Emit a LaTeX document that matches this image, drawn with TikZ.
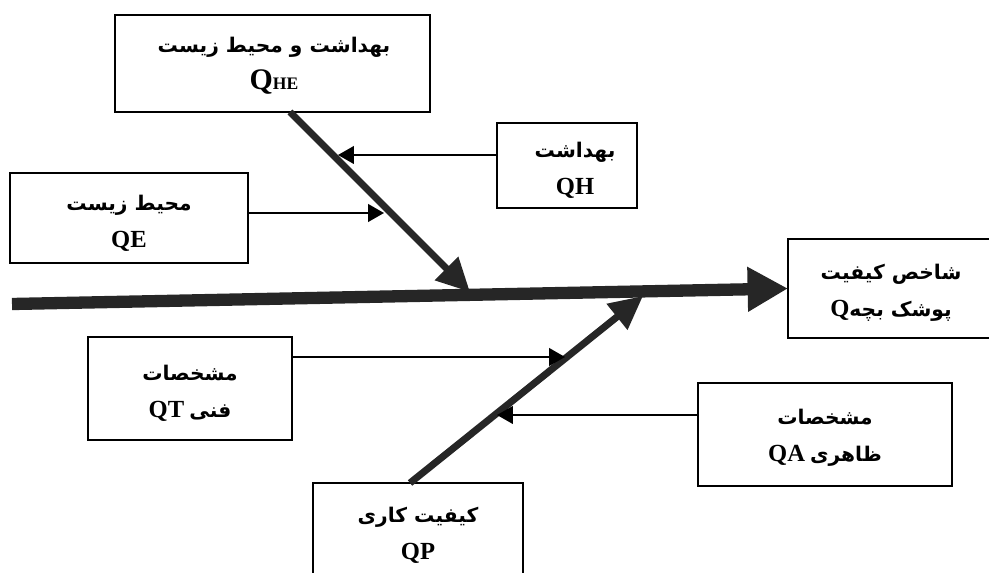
\documentclass[tikz,border=0pt]{standalone}
\usepackage{fontspec}
\setmainfont{Liberation Serif}
\newfontfamily\fa[Script=Arabic]{DejaVu Sans}
\TeXXeTstate=1
\usetikzlibrary{arrows.meta}
\tikzset{
  box/.style={draw=black, line width=1.1pt, inner sep=0pt, outer sep=0pt},
  txt/.style={align=center, font=\fontsize{11.5}{21}\selectfont, inner sep=0pt},
  spine/.style={draw=black!85, line width=7pt, -{Triangle[length=23pt,width=24pt]}},
  bone/.style={draw=black!85, line width=4pt, -{Triangle[length=19pt,width=18pt]}},
  side/.style={draw=black, line width=1.1pt, -{Triangle[length=9pt,width=10pt]}}
}
\begin{document}
\begin{tikzpicture}[x=0.02cm,y=-0.02cm]
\useasboundingbox (0,0) rectangle (989,573);
\clip (0,0) rectangle (989,573);
% boxes
\node[box, minimum width=6.30cm, minimum height=1.94cm] (qhe) at (272.5,63.5) {};
\node[box, minimum width=2.80cm, minimum height=1.70cm] (qh) at (567,165.5) {};
\node[box, minimum width=4.76cm, minimum height=1.80cm] (qe) at (129,218) {};
\node[box, minimum width=4.08cm, minimum height=1.98cm] (q) at (890,288.5) {};
\node[box, minimum width=4.08cm, minimum height=2.06cm] (qt) at (190,388.5) {};
\node[box, minimum width=5.08cm, minimum height=2.06cm] (qa) at (825,434.5) {};
\node[box, minimum width=4.20cm, minimum height=2.20cm] (qp) at (418,538) {};
% texts
\node[txt] (tqhe) at (274,66) {{\fa\bfseries\beginR بهداشت و محیط زیست\endR}\\{\bfseries\fontsize{17}{17}\selectfont Q\fontsize{10}{10}\selectfont HE}};
\node[txt] (tqh) at (575,170) {{\fa\bfseries\beginR بهداشت\endR}\\{\bfseries\fontsize{14}{14}\selectfont QH}};
\node[txt] (tqe) at (129,223) {{\fa\bfseries\beginR محیط زیست\endR}\\{\bfseries\fontsize{14}{14}\selectfont QE}};
\node[txt] (tq) at (891,293) {{\fa\bfseries\beginR شاخص کیفیت\endR}\\{\bfseries\fontsize{14}{14}\selectfont Q}{\fa\bfseries\beginR پوشک بچه\endR}};
\node[txt] (tqt) at (190,393) {{\fa\bfseries\beginR مشخصات\endR}\\{\bfseries\fontsize{14}{14}\selectfont QT} {\fa\bfseries\beginR فنی\endR}};
\node[txt] (tqa) at (825,438) {{\fa\bfseries\beginR مشخصات\endR}\\{\bfseries\fontsize{14}{14}\selectfont QA} {\fa\bfseries\beginR ظاهری\endR}};
\node[txt] (tqp) at (418,535) {{\fa\bfseries\beginR کیفیت کاری\endR}\\{\bfseries\fontsize{14}{14}\selectfont QP}};
% coordinates
\coordinate (s0) at (12,304);
\coordinate (b1) at (290,112);
\coordinate (he) at (470,292);
\coordinate (b2) at (410,483);
\coordinate (pe) at (643,296);
\coordinate (hh) at (338,155);
\coordinate (ee) at (384,213);
\coordinate (tt) at (565,357);
\coordinate (aa) at (497,415);
% connectors
\draw[spine] (s0) -- (q.west);
\draw[bone] (b1) -- (he);
\draw[bone] (b2) -- (pe);
\draw[side] (qh.west |- hh) -- (hh);
\draw[side] (qe.east |- ee) -- (ee);
\draw[side] (qt.east |- tt) -- (tt);
\draw[side] (qa.west |- aa) -- (aa);
\end{tikzpicture}
\end{document}
